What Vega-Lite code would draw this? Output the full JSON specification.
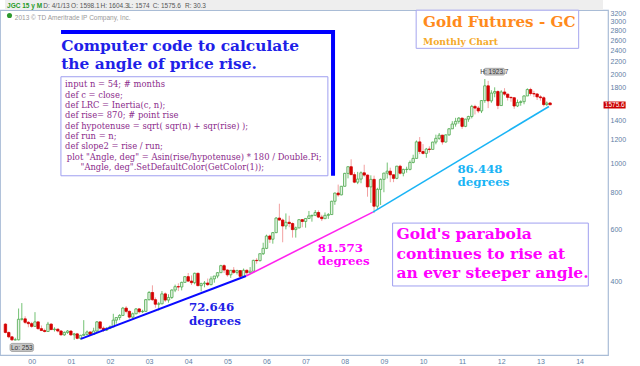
{
  "$schema": "https://vega.github.io/schema/vega-lite/v6.json",
  "width": 608,
  "height": 345,
  "autosize": {"type": "none"},
  "padding": {"left": 0, "top": 10, "right": 32, "bottom": 11},
  "background": "white",
  "config": {
    "view": {"stroke": "#a9bcd6", "strokeWidth": 1.2},
    "axis": {"labelFont": "Liberation Sans", "labelColor": "#5e7ea6", "labelFontSize": 7, "domain": false, "grid": false, "ticks": false, "title": null}
  },
  "datasets": {
    "candles": [
      {"d":"1999-05-01","o":288,"h":290,"l":268,"c":270},
      {"d":"1999-06-01","o":270,"h":272,"l":258,"c":261},
      {"d":"1999-07-01","o":261,"h":262,"l":253,"c":255},
      {"d":"1999-08-01","o":255,"h":259,"l":254,"c":255},
      {"d":"1999-09-01","o":255,"h":325,"l":254,"c":299},
      {"d":"1999-10-01","o":299,"h":339,"l":296,"c":300},
      {"d":"1999-11-01","o":300,"h":306,"l":288,"c":292},
      {"d":"1999-12-01","o":292,"h":295,"l":281,"c":289},
      {"d":"2000-01-01","o":289,"h":293,"l":280,"c":283},
      {"d":"2000-02-01","o":283,"h":316,"l":282,"c":293},
      {"d":"2000-03-01","o":293,"h":294,"l":276,"c":278},
      {"d":"2000-04-01","o":278,"h":285,"l":274,"c":274},
      {"d":"2000-05-01","o":274,"h":278,"l":270,"c":272},
      {"d":"2000-06-01","o":272,"h":293,"l":271,"c":288},
      {"d":"2000-07-01","o":288,"h":290,"l":276,"c":276},
      {"d":"2000-08-01","o":276,"h":281,"l":272,"c":277},
      {"d":"2000-09-01","o":277,"h":278,"l":270,"c":273},
      {"d":"2000-10-01","o":273,"h":275,"l":264,"c":265},
      {"d":"2000-11-01","o":265,"h":272,"l":263,"c":270},
      {"d":"2000-12-01","o":270,"h":275,"l":267,"c":273},
      {"d":"2001-01-01","o":273,"h":274,"l":263,"c":265},
      {"d":"2001-02-01","o":265,"h":269,"l":255,"c":267},
      {"d":"2001-03-01","o":267,"h":269,"l":256,"c":258},
      {"d":"2001-04-01","o":258,"h":265,"l":255,"c":264},
      {"d":"2001-05-01","o":264,"h":297,"l":263,"c":266},
      {"d":"2001-06-01","o":266,"h":274,"l":264,"c":271},
      {"d":"2001-07-01","o":271,"h":272,"l":263,"c":266},
      {"d":"2001-08-01","o":266,"h":280,"l":265,"c":273},
      {"d":"2001-09-01","o":273,"h":295,"l":271,"c":293},
      {"d":"2001-10-01","o":293,"h":294,"l":276,"c":279},
      {"d":"2001-11-01","o":279,"h":283,"l":271,"c":275},
      {"d":"2001-12-01","o":275,"h":281,"l":273,"c":279},
      {"d":"2002-01-01","o":279,"h":285,"l":277,"c":282},
      {"d":"2002-02-01","o":282,"h":312,"l":281,"c":297},
      {"d":"2002-03-01","o":297,"h":303,"l":289,"c":303},
      {"d":"2002-04-01","o":303,"h":311,"l":297,"c":308},
      {"d":"2002-05-01","o":308,"h":329,"l":307,"c":326},
      {"d":"2002-06-01","o":326,"h":331,"l":313,"c":318},
      {"d":"2002-07-01","o":318,"h":320,"l":300,"c":304},
      {"d":"2002-08-01","o":304,"h":315,"l":301,"c":312},
      {"d":"2002-09-01","o":312,"h":326,"l":311,"c":324},
      {"d":"2002-10-01","o":324,"h":326,"l":313,"c":317},
      {"d":"2002-11-01","o":317,"h":322,"l":314,"c":318},
      {"d":"2002-12-01","o":318,"h":350,"l":317,"c":348},
      {"d":"2003-01-01","o":348,"h":372,"l":346,"c":368},
      {"d":"2003-02-01","o":368,"h":389,"l":345,"c":348},
      {"d":"2003-03-01","o":348,"h":354,"l":327,"c":336},
      {"d":"2003-04-01","o":336,"h":342,"l":320,"c":337},
      {"d":"2003-05-01","o":337,"h":372,"l":336,"c":364},
      {"d":"2003-06-01","o":364,"h":368,"l":342,"c":347},
      {"d":"2003-07-01","o":347,"h":363,"l":340,"c":354},
      {"d":"2003-08-01","o":354,"h":377,"l":350,"c":375},
      {"d":"2003-09-01","o":375,"h":391,"l":369,"c":385},
      {"d":"2003-10-01","o":385,"h":395,"l":372,"c":384},
      {"d":"2003-11-01","o":384,"h":400,"l":374,"c":398},
      {"d":"2003-12-01","o":398,"h":418,"l":398,"c":416},
      {"d":"2004-01-01","o":416,"h":428,"l":399,"c":402},
      {"d":"2004-02-01","o":402,"h":420,"l":390,"c":397},
      {"d":"2004-03-01","o":397,"h":429,"l":392,"c":427},
      {"d":"2004-04-01","o":427,"h":429,"l":386,"c":388},
      {"d":"2004-05-01","o":388,"h":397,"l":371,"c":394},
      {"d":"2004-06-01","o":394,"h":402,"l":383,"c":396},
      {"d":"2004-07-01","o":396,"h":410,"l":387,"c":391},
      {"d":"2004-08-01","o":391,"h":417,"l":389,"c":409},
      {"d":"2004-09-01","o":409,"h":418,"l":397,"c":418},
      {"d":"2004-10-01","o":418,"h":431,"l":411,"c":429},
      {"d":"2004-11-01","o":429,"h":456,"l":428,"c":453},
      {"d":"2004-12-01","o":453,"h":458,"l":428,"c":438},
      {"d":"2005-01-01","o":438,"h":440,"l":416,"c":422},
      {"d":"2005-02-01","o":422,"h":438,"l":412,"c":437},
      {"d":"2005-03-01","o":437,"h":448,"l":425,"c":430},
      {"d":"2005-04-01","o":430,"h":439,"l":423,"c":436},
      {"d":"2005-05-01","o":436,"h":437,"l":414,"c":417},
      {"d":"2005-06-01","o":417,"h":443,"l":414,"c":437},
      {"d":"2005-07-01","o":437,"h":440,"l":418,"c":429},
      {"d":"2005-08-01","o":429,"h":448,"l":427,"c":434},
      {"d":"2005-09-01","o":434,"h":474,"l":432,"c":472},
      {"d":"2005-10-01","o":472,"h":480,"l":460,"c":471},
      {"d":"2005-11-01","o":471,"h":497,"l":468,"c":497},
      {"d":"2005-12-01","o":497,"h":541,"l":492,"c":518},
      {"d":"2006-01-01","o":518,"h":576,"l":515,"c":570},
      {"d":"2006-02-01","o":570,"h":576,"l":540,"c":556},
      {"d":"2006-03-01","o":556,"h":588,"l":537,"c":585},
      {"d":"2006-04-01","o":585,"h":660,"l":583,"c":655},
      {"d":"2006-05-01","o":655,"h":732,"l":643,"c":645},
      {"d":"2006-06-01","o":645,"h":652,"l":543,"c":616},
      {"d":"2006-07-01","o":616,"h":679,"l":600,"c":634},
      {"d":"2006-08-01","o":634,"h":667,"l":610,"c":628},
      {"d":"2006-09-01","o":628,"h":633,"l":563,"c":599},
      {"d":"2006-10-01","o":599,"h":613,"l":563,"c":607},
      {"d":"2006-11-01","o":607,"h":648,"l":605,"c":647},
      {"d":"2006-12-01","o":647,"h":650,"l":610,"c":638},
      {"d":"2007-01-01","o":638,"h":655,"l":608,"c":653},
      {"d":"2007-02-01","o":653,"h":692,"l":650,"c":666},
      {"d":"2007-03-01","o":666,"h":672,"l":637,"c":669},
      {"d":"2007-04-01","o":669,"h":697,"l":665,"c":684},
      {"d":"2007-05-01","o":684,"h":695,"l":655,"c":660},
      {"d":"2007-06-01","o":660,"h":672,"l":640,"c":652},
      {"d":"2007-07-01","o":652,"h":684,"l":650,"c":669},
      {"d":"2007-08-01","o":669,"h":681,"l":651,"c":673},
      {"d":"2007-09-01","o":673,"h":749,"l":671,"c":746},
      {"d":"2007-10-01","o":746,"h":798,"l":726,"c":795},
      {"d":"2007-11-01","o":795,"h":849,"l":773,"c":784},
      {"d":"2007-12-01","o":784,"h":840,"l":781,"c":838},
      {"d":"2008-01-01","o":838,"h":930,"l":836,"c":926},
      {"d":"2008-02-01","o":926,"h":978,"l":891,"c":975},
      {"d":"2008-03-01","o":975,"h":1033,"l":915,"c":917},
      {"d":"2008-04-01","o":917,"h":935,"l":858,"c":865},
      {"d":"2008-05-01","o":865,"h":937,"l":852,"c":886},
      {"d":"2008-06-01","o":886,"h":940,"l":858,"c":930},
      {"d":"2008-07-01","o":930,"h":990,"l":902,"c":914},
      {"d":"2008-08-01","o":914,"h":918,"l":773,"c":834},
      {"d":"2008-09-01","o":834,"h":912,"l":737,"c":884},
      {"d":"2008-10-01","o":884,"h":910,"l":681,"c":718},
      {"d":"2008-11-01","o":718,"h":828,"l":700,"c":818},
      {"d":"2008-12-01","o":818,"h":890,"l":725,"c":884},
      {"d":"2009-01-01","o":884,"h":930,"l":800,"c":928},
      {"d":"2009-02-01","o":928,"h":1007,"l":890,"c":942},
      {"d":"2009-03-01","o":942,"h":968,"l":865,"c":916},
      {"d":"2009-04-01","o":916,"h":920,"l":865,"c":891},
      {"d":"2009-05-01","o":891,"h":982,"l":885,"c":979},
      {"d":"2009-06-01","o":979,"h":990,"l":918,"c":927},
      {"d":"2009-07-01","o":927,"h":960,"l":905,"c":955},
      {"d":"2009-08-01","o":955,"h":975,"l":931,"c":955},
      {"d":"2009-09-01","o":955,"h":1023,"l":948,"c":1008},
      {"d":"2009-10-01","o":1008,"h":1070,"l":1001,"c":1040},
      {"d":"2009-11-01","o":1040,"h":1195,"l":1040,"c":1182},
      {"d":"2009-12-01","o":1182,"h":1227,"l":1075,"c":1097},
      {"d":"2010-01-01","o":1097,"h":1162,"l":1072,"c":1081},
      {"d":"2010-02-01","o":1081,"h":1128,"l":1045,"c":1118},
      {"d":"2010-03-01","o":1118,"h":1142,"l":1088,"c":1115},
      {"d":"2010-04-01","o":1115,"h":1183,"l":1115,"c":1180},
      {"d":"2010-05-01","o":1180,"h":1250,"l":1160,"c":1215},
      {"d":"2010-06-01","o":1215,"h":1266,"l":1201,"c":1245},
      {"d":"2010-07-01","o":1245,"h":1248,"l":1157,"c":1181},
      {"d":"2010-08-01","o":1181,"h":1252,"l":1175,"c":1248},
      {"d":"2010-09-01","o":1248,"h":1315,"l":1239,"c":1308},
      {"d":"2010-10-01","o":1308,"h":1388,"l":1306,"c":1357},
      {"d":"2010-11-01","o":1357,"h":1424,"l":1330,"c":1386},
      {"d":"2010-12-01","o":1386,"h":1432,"l":1361,"c":1421},
      {"d":"2011-01-01","o":1421,"h":1425,"l":1308,"c":1333},
      {"d":"2011-02-01","o":1333,"h":1413,"l":1325,"c":1410},
      {"d":"2011-03-01","o":1410,"h":1447,"l":1381,"c":1439},
      {"d":"2011-04-01","o":1439,"h":1575,"l":1418,"c":1556},
      {"d":"2011-05-01","o":1556,"h":1577,"l":1462,"c":1536},
      {"d":"2011-06-01","o":1536,"h":1560,"l":1477,"c":1502},
      {"d":"2011-07-01","o":1502,"h":1632,"l":1478,"c":1628},
      {"d":"2011-08-01","o":1628,"h":1923.7,"l":1600,"c":1825},
      {"d":"2011-09-01","o":1825,"h":1896,"l":1535,"c":1624},
      {"d":"2011-10-01","o":1624,"h":1764,"l":1600,"c":1725},
      {"d":"2011-11-01","o":1725,"h":1804,"l":1670,"c":1746},
      {"d":"2011-12-01","o":1746,"h":1764,"l":1523,"c":1566},
      {"d":"2012-01-01","o":1566,"h":1764,"l":1563,"c":1740},
      {"d":"2012-02-01","o":1740,"h":1792,"l":1688,"c":1711},
      {"d":"2012-03-01","o":1711,"h":1718,"l":1628,"c":1669},
      {"d":"2012-04-01","o":1669,"h":1679,"l":1613,"c":1664},
      {"d":"2012-05-01","o":1664,"h":1670,"l":1527,"c":1561},
      {"d":"2012-06-01","o":1561,"h":1641,"l":1548,"c":1604},
      {"d":"2012-07-01","o":1604,"h":1631,"l":1564,"c":1614},
      {"d":"2012-08-01","o":1614,"h":1695,"l":1582,"c":1687},
      {"d":"2012-09-01","o":1687,"h":1790,"l":1686,"c":1773},
      {"d":"2012-10-01","o":1773,"h":1798,"l":1692,"c":1719},
      {"d":"2012-11-01","o":1719,"h":1755,"l":1672,"c":1713},
      {"d":"2012-12-01","o":1713,"h":1726,"l":1635,"c":1675},
      {"d":"2013-01-01","o":1675,"h":1698,"l":1627,"c":1664},
      {"d":"2013-02-01","o":1664,"h":1683,"l":1555,"c":1578},
      {"d":"2013-03-01","o":1578,"h":1616,"l":1562,"c":1596},
      {"d":"2013-04-01","o":1598.1,"h":1604.3,"l":1574,"c":1575.6}
    ]
  },
  "encoding": {
    "x": {"field": "d", "type": "temporal", "title": null,
      "scale": {"domain": [{"year": 1999, "month": 4, "date": 27, "utc": true}, {"year": 2014, "month": 8, "date": 8, "utc": true}]},
      "axis": {"format": "%y", "tickCount": {"interval": "year", "step": 1}, "labelOverlap": false, "labelPadding": 2, "labelFlush": false}},
    "y": {"field": "p", "type": "quantitative", "title": null,
      "scale": {"type": "log", "domain": [226.7, 3284], "nice": false, "zero": false},
      "axis": {"orient": "right", "values": [400, 600, 800, 1000, 1200, 1400, 1800, 2000, 2200, 2400, 2600, 2800, 3000, 3200], "format": "d", "labelPadding": 2, "labelFlush": false}}
  },
  "layer": [
    {
      "data": {"values": [{"d": "1999-04-27", "d2": "2014-08-08", "p": 3284, "p2": 3600}]},
      "mark": {"type": "rect", "fill": "#eeeeee", "clip": false},
      "encoding": {"x2": {"field": "d2"}, "y2": {"field": "p2"}}
    },
    {
      "data": {"values": [{"d": "2000-04-02"}, {"d": "2000-12-15"}, {"d": "2001-09-16"}, {"d": "2002-06-09"}, {"d": "2003-01-20"}, {"d": "2003-11-04"}, {"d": "2004-06-13"}]},
      "mark": {"type": "rule", "stroke": "#b8b8b8", "strokeWidth": 1, "clip": false},
      "encoding": {"y": {"datum": 3290, "type": "quantitative"}, "y2": {"datum": 3580}}
    },
    {
      "data": {"values": [{"d": "1999-05-16", "p": 3347, "t": "JGC 15 y M"}]},
      "mark": {"type": "text", "align": "left", "baseline": "alphabetic", "font": "Liberation Sans", "fontSize": 6.5, "fontWeight": "bold", "fill": "#1f9a1f"},
      "encoding": {"text": {"field": "t"}}
    },
    {
      "data": {"values": [
        {"d": "2000-04-19", "p": 3347, "t": "D: 4/1/13"},
        {"d": "2001-01-03", "p": 3347, "t": "O: 1598.1"},
        {"d": "2001-10-04", "p": 3347, "t": "H: 1604.3"},
        {"d": "2002-06-18", "p": 3347, "t": "L: 1574"},
        {"d": "2003-02-03", "p": 3347, "t": "C: 1575.6"},
        {"d": "2003-12-02", "p": 3347, "t": "R: 30.3"}
      ]},
      "mark": {"type": "text", "align": "left", "baseline": "alphabetic", "font": "Liberation Sans", "fontSize": 6.5, "fill": "#555555"},
      "encoding": {"text": {"field": "t"}}
    },
    {
      "data": {"values": [{"d": "1999-06-08", "p": 3146}]},
      "mark": {"type": "point", "filled": true, "size": 26, "fill": "#2e9a2e", "opacity": 1},
      "encoding": {}
    },
    {
      "data": {"values": [{"d": "1999-07-28", "p": 3050, "t": "2013 © TD Ameritrade IP Company, Inc."}]},
      "mark": {"type": "text", "align": "left", "baseline": "alphabetic", "font": "Liberation Sans", "fontSize": 6.5, "fill": "#999999"},
      "encoding": {"text": {"field": "t"}}
    },
    {
      "data": {"name": "candles"},
      "mark": {"type": "rule", "strokeWidth": 1},
      "encoding": {
        "y": {"field": "l", "type": "quantitative", "title": null, "scale": {"type": "log", "domain": [226.7, 3284], "nice": false, "zero": false}},
        "y2": {"field": "h"},
        "stroke": {"condition": {"test": "datum.c >= datum.o", "value": "#74c274"}, "value": "#f2a0a0"}
      }
    },
    {
      "data": {"name": "candles"},
      "mark": {"type": "bar", "orient": "vertical", "size": 2.4, "strokeWidth": 0.8},
      "encoding": {
        "y": {"field": "o", "type": "quantitative", "title": null, "scale": {"type": "log", "domain": [226.7, 3284], "nice": false, "zero": false}},
        "y2": {"field": "c"},
        "fill": {"condition": {"test": "datum.c >= datum.o", "value": "#e4f4e4"}, "value": "#d40000"},
        "stroke": {"condition": {"test": "datum.c >= datum.o", "value": "#4ea84e"}, "value": "#d40000"}
      }
    },
    {
      "data": {"values": [{"d": "2001-04-04", "p": 257}, {"d": "2005-06-24", "p": 418}]},
      "mark": {"type": "line", "stroke": "#0a0aff", "strokeWidth": 2},
      "encoding": {}
    },
    {
      "data": {"values": [{"d": "2005-06-24", "p": 418}, {"d": "2008-09-20", "p": 686}]},
      "mark": {"type": "line", "stroke": "#ff22ee", "strokeWidth": 1.6},
      "encoding": {}
    },
    {
      "data": {"values": [{"d": "2008-09-20", "p": 686}, {"d": "2013-03-21", "p": 1555}]},
      "mark": {"type": "line", "stroke": "#1ab4f5", "strokeWidth": 1.6},
      "encoding": {}
    },
    {
      "data": {"values": [{"d": "2000-09-30", "d2": "2007-07-28", "p": 1958, "p2": 909}]},
      "mark": {"type": "rect", "fill": "white", "stroke": "#9f9ff0", "strokeWidth": 1},
      "encoding": {"x2": {"field": "d2"}, "y2": {"field": "p2"}}
    },
    {
      "data": {"values": [{"i": 1, "d": "2000-10-01", "p": 2769}, {"i": 2, "d": "2007-09-14", "p": 2769}, {"i": 3, "d": "2007-09-14", "p": 909}]},
      "mark": {"type": "line", "stroke": "#0000ff", "strokeWidth": 4, "strokeCap": "butt", "strokeJoin": "miter"},
      "encoding": {"order": {"field": "i", "type": "quantitative"}}
    },
    {
      "data": {"values": [{"d": "2000-10-03", "p": 2395, "t": "Computer code to calculate"}, {"d": "2000-10-03", "p": 2078, "t": "the angle of price rise."}]},
      "mark": {"type": "text", "align": "left", "baseline": "alphabetic", "font": "DejaVu Serif", "fontSize": 15.4, "fontWeight": "bold", "fill": "#1f1fe8"},
      "encoding": {"text": {"field": "t"}}
    },
    {
      "data": {"values": [{"d": "2000-11-08", "p": 1804, "t": "input n = 54; # months\ndef c = close;\ndef LRC = Inertia(c, n);\ndef rise= 870; # point rise\ndef hypotenuse = sqrt( sqr(n) + sqr(rise) );\ndef run = n;\ndef slope2 = rise / run;"}]},
      "mark": {"type": "text", "align": "left", "baseline": "alphabetic", "font": "DejaVu Serif", "fontSize": 8.4, "fill": "#8b2b8b", "lineBreak": "\n", "lineHeight": 10.3},
      "encoding": {"text": {"field": "t"}}
    },
    {
      "data": {"values": [{"d": "2000-11-24", "p": 1030, "t": "plot \"Angle, deg\" = Asin(rise/hypotenuse) * 180 / Double.Pi;"}, {"d": "2001-04-01", "p": 950, "t": "\"Angle, deg\".SetDefaultColor(GetColor(1));"}]},
      "mark": {"type": "text", "align": "left", "baseline": "alphabetic", "font": "DejaVu Serif", "fontSize": 8.4, "fill": "#8b2b8b"},
      "encoding": {"text": {"field": "t"}}
    },
    {
      "data": {"values": [{"d": "2009-10-29", "d2": "2013-12-24", "p": 3280, "p2": 2440}]},
      "mark": {"type": "rect", "fill": "white", "stroke": "#a5a5ee", "strokeWidth": 1},
      "encoding": {"x2": {"field": "d2"}, "y2": {"field": "p2"}}
    },
    {
      "data": {"values": [{"d": "2010-01-01", "p": 2878, "t": "Gold Futures - GC"}]},
      "mark": {"type": "text", "align": "left", "baseline": "alphabetic", "font": "DejaVu Serif", "fontSize": 15.2, "fontWeight": "bold", "fill": "#ff8a1c"},
      "encoding": {"text": {"field": "t"}}
    },
    {
      "data": {"values": [{"d": "2010-01-01", "p": 2503, "t": "Monthly Chart"}]},
      "mark": {"type": "text", "align": "left", "baseline": "alphabetic", "font": "DejaVu Serif", "fontSize": 9.2, "fontWeight": "bold", "fill": "#f5aa2a"},
      "encoding": {"text": {"field": "t"}}
    },
    {
      "data": {"values": [{"d": "2004-01-08", "p": 318, "t": "72.646"}, {"d": "2004-01-08", "p": 285, "t": "degrees"}]},
      "mark": {"type": "text", "align": "left", "baseline": "alphabetic", "font": "DejaVu Serif", "fontSize": 11.8, "fontWeight": "bold", "fill": "#2020e6"},
      "encoding": {"text": {"field": "t"}}
    },
    {
      "data": {"values": [{"d": "2007-04-24", "p": 503, "t": "81.573"}, {"d": "2007-04-24", "p": 455, "t": "degrees"}]},
      "mark": {"type": "text", "align": "left", "baseline": "alphabetic", "font": "DejaVu Serif", "fontSize": 11.8, "fontWeight": "bold", "fill": "#ff00ff"},
      "encoding": {"text": {"field": "t"}}
    },
    {
      "data": {"values": [{"d": "2010-11-18", "p": 929, "t": "86.448"}, {"d": "2010-11-18", "p": 840, "t": "degrees"}]},
      "mark": {"type": "text", "align": "left", "baseline": "alphabetic", "font": "DejaVu Serif", "fontSize": 11.8, "fontWeight": "bold", "fill": "#1ab4f5"},
      "encoding": {"text": {"field": "t"}}
    },
    {
      "data": {"values": [{"d": "2009-03-23", "d2": "2014-03-24", "p": 630, "p2": 387}]},
      "mark": {"type": "rect", "fill": "white", "stroke": "#9f9ff0", "strokeWidth": 1},
      "encoding": {"x2": {"field": "d2"}, "y2": {"field": "p2"}}
    },
    {
      "data": {"values": [{"d": "2009-04-28", "p": 556, "t": "Gold's parabola"}, {"d": "2009-04-28", "p": 478, "t": "continues to rise at"}, {"d": "2009-04-28", "p": 411, "t": "an ever steeper angle."}]},
      "mark": {"type": "text", "align": "left", "baseline": "alphabetic", "font": "DejaVu Serif", "fontSize": 15.5, "fontWeight": "bold", "fill": "#ff00ff"},
      "encoding": {"text": {"field": "t"}}
    },
    {
      "data": {"values": [{"d": "2011-07-22", "d2": "2012-02-05", "p": 2090, "p2": 1984}, {"d": "1999-06-13", "d2": "2000-01-19", "p": 248, "p2": 233}]},
      "mark": {"type": "rect", "fill": "#c6c6c6", "stroke": "#9a9a9a", "strokeWidth": 0.8, "cornerRadius": 2},
      "encoding": {"x2": {"field": "d2"}, "y2": {"field": "p2"}}
    },
    {
      "data": {"values": [{"d": "2011-10-29", "p": 2035, "t": "H: 1923.7"}, {"d": "1999-10-01", "p": 240, "t": "Lo: 253"}]},
      "mark": {"type": "text", "align": "center", "baseline": "middle", "font": "Liberation Sans", "fontSize": 6.5, "fill": "#333333"},
      "encoding": {"text": {"field": "t"}}
    },
    {
      "data": {"values": [{"d": "2014-08-13", "d2": "2015-03-07", "p": 1616, "p2": 1531}]},
      "mark": {"type": "rect", "fill": "#cc0000", "clip": false},
      "encoding": {"x2": {"field": "d2"}, "y2": {"field": "p2"}}
    },
    {
      "data": {"values": [{"d": "2014-11-26", "p": 1573, "t": "1575.6"}]},
      "mark": {"type": "text", "align": "center", "baseline": "middle", "font": "Liberation Sans", "fontSize": 6.5, "fill": "white", "clip": false},
      "encoding": {"text": {"field": "t"}}
    }
  ]
}
